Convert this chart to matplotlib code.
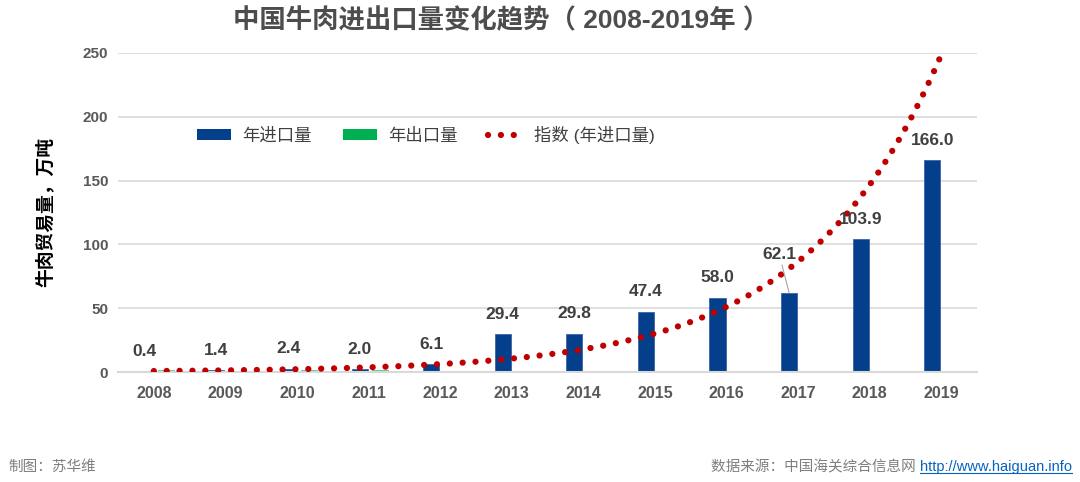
import numpy as np
import matplotlib
matplotlib.use("Agg")
import matplotlib.pyplot as plt
from matplotlib.patches import Patch
from matplotlib.lines import Line2D

plt.rcParams['font.family'] = ['Liberation Sans', 'Noto Sans CJK SC', 'DejaVu Sans']

years = ['2008', '2009', '2010', '2011', '2012', '2013', '2014', '2015', '2016', '2017', '2018', '2019']
imports = [0.4, 1.4, 2.4, 2.0, 6.1, 29.4, 29.8, 47.4, 58.0, 62.1, 103.9, 166.0]
exports = [1.4, 0.6, 1.3, 1.6, 0.8, 0.2, 0.2, 0.8, 0.1, 0.1, 0.05, 0.05]
yticks = [0, 50, 100, 150, 200, 250]

title = '中国牛肉进出口量变化趋势（ 2008-2019年 ）'
ylabel = '牛肉贸易量，万吨'
legend_labels = ['年进口量', '年出口量', '指数 (年进口量)']
credit = '制图：苏华维'
source = '数据来源：中国海关综合信息网 '
link = 'http://www.haiguan.info'

C_IMP = '#033F8A'
C_EXP = '#00B050'
C_TREND = '#C00000'
C_TXT = '#595959'

fig = plt.figure(figsize=(10.8, 4.82), dpi=100)
ax = fig.add_axes([118/1080, 110/482, 859/1080, 319/482])

x = np.arange(len(years))
w = 0.225
ax.bar(x - 0.125, imports, width=w, color=C_IMP, edgecolor='#3A64A8', linewidth=0.6, zorder=2)
ax.bar(x + 0.165, exports, width=w, color=C_EXP, edgecolor='#5CC98A', linewidth=0.6, zorder=2)

# exponential trendline fitted to the import series (as Excel does)
b, a = np.polyfit(x, np.log(imports), 1)
xs = np.linspace(0, len(years) - 1, 400)
dot_style = (0, (0.01, 2.05))
ax.plot(xs, np.exp(a + b * xs), color=C_TREND, lw=4.5, linestyle=dot_style,
        dash_capstyle='round', zorder=3)

for i, v in enumerate(imports):
    if years[i] == '2017':
        ax.annotate(f'{v:.1f}', xy=(i - 0.125, v), xytext=(-7, 22), textcoords='offset points',
                    ha='center', va='bottom', fontsize=12.5, fontweight='bold', color='#404040',
                    arrowprops=dict(arrowstyle='-', color='#A6A6A6', lw=0.8,
                                    shrinkA=0, shrinkB=0), zorder=4)
    else:
        ax.annotate(f'{v:.1f}', xy=(i - 0.125, v), xytext=(0, 9), textcoords='offset points',
                    ha='center', va='bottom', fontsize=12.5, fontweight='bold', color='#404040', zorder=4)

ax.set_xlim(-0.5, len(years) - 0.5)
ax.set_ylim(0, 250)
ax.set_yticks(yticks)
ax.set_xticks(x)
ax.set_xticklabels(years)
ax.grid(axis='y', color='#D9D9D9', lw=1.2, zorder=0)
ax.set_axisbelow(True)
for s in ['top', 'right', 'left']:
    ax.spines[s].set_visible(False)
ax.spines['bottom'].set_color('#D9D9D9')
ax.spines['bottom'].set_linewidth(1.5)
ax.tick_params(axis='both', length=0, colors=C_TXT, labelsize=11.5)
ax.tick_params(axis='x', pad=10)
ax.tick_params(axis='y', pad=7, labelsize=11)
for lab in ax.get_xticklabels() + ax.get_yticklabels():
    lab.set_fontweight('bold')

fig.text(233/1080, 1 - 20/482, title, ha='left', va='center', fontsize=19,
         fontweight='bold', color='#4D4D4D')
fig.text(45/1080, 1 - 212/482, ylabel, ha='center', va='center', rotation=90,
         fontsize=13.5, fontweight='bold', color='black')

handles = [Patch(facecolor=C_IMP), Patch(facecolor=C_EXP),
           Line2D([0], [0], color=C_TREND, lw=4.5, linestyle=dot_style, dash_capstyle='round')]
leg = fig.legend(handles, legend_labels, loc='center left', bbox_to_anchor=(188/1080, 1 - 135/482),
                 ncol=3, frameon=False, fontsize=12.5, handlelength=2.0, handleheight=0.6,
                 handletextpad=0.6, columnspacing=1.8, borderpad=0, labelcolor='#404040')

fig.text(8/1080, 1 - 467/482, credit, ha='left', va='center', fontsize=10.5, color='#7F7F7F')
lt = fig.text(1072/1080, 1 - 467/482, link, ha='right', va='center', fontsize=10.5, color='#0563C1')
fig.canvas.draw()
r = fig.canvas.get_renderer()
bb = lt.get_window_extent(r)
inv = fig.transFigure.inverted()
(x0, y0), (x1, y1) = inv.transform([(bb.x0, bb.y0), (bb.x1, bb.y1)])
fig.text(x0, 1 - 467/482, source, ha='right', va='center', fontsize=10.5, color='#7F7F7F')
fig.add_artist(Line2D([x0, x1], [y0 + 0.002, y0 + 0.002], color='#0563C1', lw=0.8,
                      transform=fig.transFigure))

fig.savefig('out.png', dpi=100)
